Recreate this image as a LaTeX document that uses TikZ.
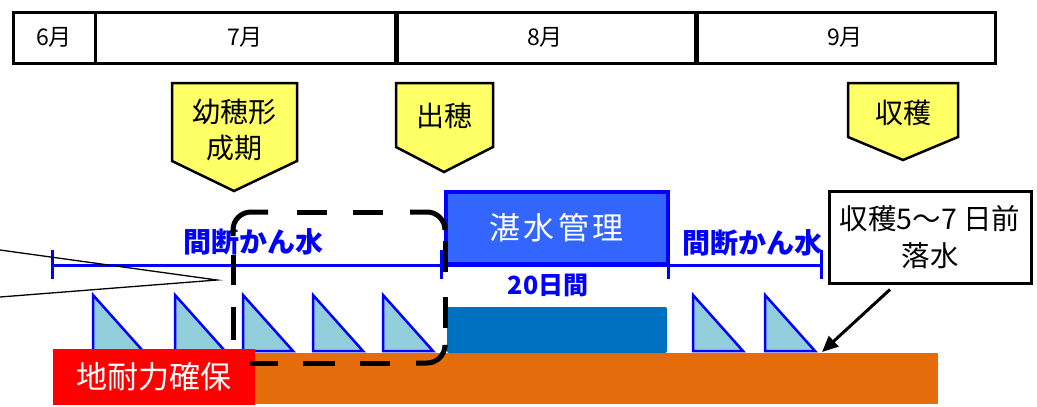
\documentclass[tikz,border=0pt]{standalone}
\usepackage{fontspec}
\setmainfont{Noto Sans CJK JP}
\usetikzlibrary{arrows.meta}
\definecolor{yel}{HTML}{FFFF66}
\definecolor{tanblue}{HTML}{3366FF}
\definecolor{pureblue}{HTML}{0000FF}
\definecolor{deepblue}{HTML}{0070C0}
\definecolor{soil}{HTML}{E46C0A}
\definecolor{trifill}{HTML}{92CDDC}
\begin{document}
\begin{tikzpicture}[x=1pt,y=-1pt,
  cell/.style={draw=black, line width=3pt, fill=white, minimum height=51pt, inner sep=0pt,
    font=\fontsize{23}{26}\selectfont},
  pent/.style={draw=black, line width=2.5pt, fill=yel, line join=miter},
  penttext/.style={align=center, font=\fontsize{28}{36}\selectfont},
  bluelabel/.style={text=pureblue, font=\bfseries\fontsize{28}{32}\selectfont, inner sep=0pt},
  tri/.style={draw=pureblue, line width=2.5pt, fill=trifill, line join=miter},
  timeline/.style={draw=pureblue, line width=3pt},
  dashseg/.style={draw=black, line width=5pt, line cap=butt, rounded corners=18pt},
  thinline/.style={draw=black, line width=1.3pt},
]
\useasboundingbox (0,0) rectangle (1037,407);
\fill[white] (0,0) rectangle (1037,407);

% header
\node[cell, minimum width=82pt]  (m6) at (54,37.5)  {6月};
\node[cell, minimum width=300pt] (m7) at (245,37.5) {7月};
\node[cell, minimum width=300pt] (m8) at (545,37.5) {8月};
\node[cell, minimum width=300pt] (m9) at (845,37.5) {9月};
\draw[line width=4pt] (m7.north east) -- (m7.south east);
\draw[line width=4pt] (m8.north east) -- (m8.south east);

% pentagons
\draw[pent] (172,83) -- (297,83) -- (297,161) -- (234,191) -- (172,161) -- cycle;
\node[penttext] (p1) at (234,130) {幼穂形\\成期};
\draw[pent] (396,83) -- (493,83) -- (493,147) -- (444,172) -- (396,147) -- cycle;
\node[penttext] (p2) at (444,116) {出穂};
\draw[pent] (848,83) -- (958,83) -- (958,137) -- (903,160) -- (848,137) -- cycle;
\node[penttext] (p3) at (903,113) {収穫};

% triangles
\foreach \x in {93,175,243,313,383,693,765}
  \draw[tri] (\x,295) -- (\x+50,351) -- (\x,351) -- cycle;

% soil
\fill[soil] (250,353) rectangle (938,404);
\node[fill=red, minimum width=202pt, minimum height=56pt, inner sep=0pt, text=white,
  font=\fontsize{31}{34}\selectfont] (soilred) at (154,377) {地耐力確保};

% flooded water
\fill[deepblue, rounded corners=2pt] (447,307) rectangle (667,353);

% timeline
\coordinate (t0) at (52,265);
\coordinate (t1) at (441,265);
\coordinate (t2) at (668,265);
\coordinate (t3) at (821,265);
\draw[timeline] (t0) -- (t3);
\foreach \c in {t0,t1,t2,t3}
  \draw[timeline] ([yshift=15pt]\c) -- ([yshift=-14pt]\c);

\node[draw=pureblue, fill=tanblue, line width=4pt, minimum width=222pt, minimum height=72pt,
  inner sep=0pt, text=white, font=\fontsize{31}{34}\selectfont\addfontfeature{LetterSpace=10}] (tansui) at (556.5,228) {湛水管理};

\node[bluelabel] (lab1) at (253,242) {間断かん水};
\node[bluelabel] (lab2) at (752,243) {間断かん水};
\node[text=pureblue, font=\bfseries\fontsize{25}{28}\selectfont, inner sep=0pt] (days) at (548,285) {20日間};

% dashed highlight (drawn piece by piece)
\draw[dashseg] (233,236) -- (233,212) -- (268,212);
\draw[dashseg] (297,212) -- (327,212);
\draw[dashseg] (353,212) -- (383,212);
\draw[dashseg] (410,212) -- (445,212) -- (445,226);
\draw[dashseg] (445,241) -- (445,272);
\draw[dashseg] (445,297) -- (445,328);
\draw[dashseg] (445,347) -- (445,363) -- (416,363);
\draw[dashseg] (390,363) -- (360,363);
\draw[dashseg] (335,363) -- (303,363);
\draw[draw=black, line width=5pt, line cap=butt] (278,363) -- (250,363);
\draw[dashseg] (233,340) -- (233,307);
\draw[dashseg] (233,285) -- (233,255);

% wedge lines from the left
\coordinate (wtip) at (217,280);
\coordinate (wa) at (0,250);
\coordinate (wb) at (0,297);
\draw[thinline] (wa) -- (wtip) -- (wb);

% callout
\node[draw=black, line width=3pt, fill=white, minimum width=202pt, minimum height=92pt,
  inner sep=0pt, align=center, font=\fontsize{28.5}{37}\selectfont] (note) at (930,237)
  {収穫5～7 日前\\落水};
\coordinate (arrend) at (822,352);
\draw[line width=3pt, -{Triangle[length=16pt,width=14pt]}] ([xshift=-40pt,yshift=-5pt]note.south) -- (arrend);
\end{tikzpicture}
\end{document}
